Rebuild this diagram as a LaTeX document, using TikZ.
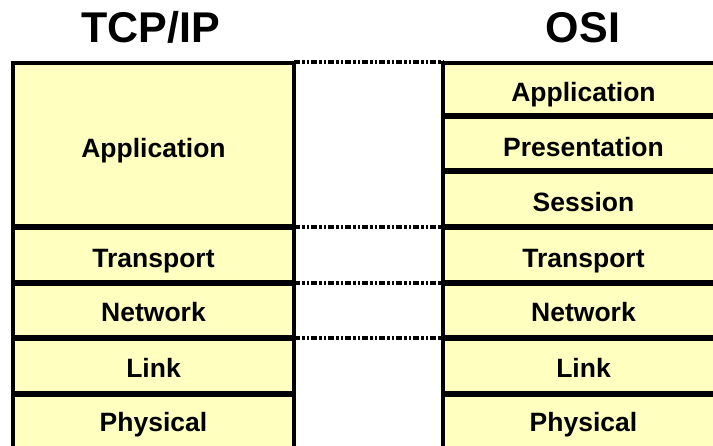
\documentclass[tikz,border=0pt]{standalone}
\usepackage{fontspec}
\setmainfont{Liberation Sans}
\definecolor{layerfill}{RGB}{255,255,192}
\begin{document}
\begin{tikzpicture}[x=1pt,y=-1pt,
  layer/.style={draw=black, line width=3.5pt, fill=layerfill, inner sep=0pt,
                minimum width=281pt, outer sep=0pt},
  sep/.style={line width=6.5pt},
  lbl/.style={anchor=base, inner sep=0pt,
              font=\fontsize{26.5}{30}\selectfont\bfseries},
  title/.style={anchor=base, inner sep=0pt,
                font=\fontsize{43}{48}\selectfont\bfseries},
  gap/.style={line width=3.5pt,
              dash pattern=on 6pt off 2pt on 2.5pt off 2pt on 2.5pt off 2pt}]
\clip (0,0) rectangle (713,446);

% titles
\node[title] (tcpip) at (150.5,43) {TCP/IP};
\node[title] (osi)   at (583,43)   {OSI};

% TCP/IP stack
\node[layer, minimum height=164pt] (tapp) at (153.5,145)   {};
\node[layer, minimum height=56pt]  (ttra) at (153.5,255)   {};
\node[layer, minimum height=55pt]  (tnet) at (153.5,310.5) {};
\node[layer, minimum height=56pt]  (tlnk) at (153.5,366)   {};
\node[layer, minimum height=56pt]  (tphy) at (153.5,422)   {};

% OSI stack
\node[layer, minimum height=53pt] (oapp) at (583.5,89.5)  {};
\node[layer, minimum height=55pt] (opre) at (583.5,143.5) {};
\node[layer, minimum height=56pt] (oses) at (583.5,199)   {};
\node[layer, minimum height=56pt] (otra) at (583.5,255)   {};
\node[layer, minimum height=55pt] (onet) at (583.5,310.5) {};
\node[layer, minimum height=56pt] (olnk) at (583.5,366)   {};
\node[layer, minimum height=56pt] (ophy) at (583.5,422)   {};

% heavy separators between layers
\foreach \n in {tapp,ttra,tnet,tlnk,oapp,opre,oses,otra,onet,olnk}
  \draw[sep] (\n.south west) -- (\n.south east);

% correspondence lines between the two stacks
\draw[gap] ([yshift=1pt]tapp.north east) -- ([yshift=1pt]oapp.north west);
\draw[gap] (tapp.south east) -- (oses.south west);
\draw[gap] (ttra.south east) -- (otra.south west);
\draw[gap] (tnet.south east) -- (onet.south west);

% layer names
\node[lbl] (lapp) at (153.5,158) {Application};
\node[lbl] (ltra) at (153.5,268) {Transport};
\node[lbl] (lnet) at (153.5,322) {Network};
\node[lbl] (llnk) at (153.5,378) {Link};
\node[lbl] (lphy) at (153.5,432) {Physical};

\node[lbl] (rapp) at (583.5,102) {Application};
\node[lbl] (rpre) at (583.5,157) {Presentation};
\node[lbl] (rses) at (583.5,212) {Session};
\node[lbl] (rtra) at (583.5,268) {Transport};
\node[lbl] (rnet) at (583.5,322) {Network};
\node[lbl] (rlnk) at (583.5,378) {Link};
\node[lbl] (rphy) at (583.5,432) {Physical};
\end{tikzpicture}
\end{document}
